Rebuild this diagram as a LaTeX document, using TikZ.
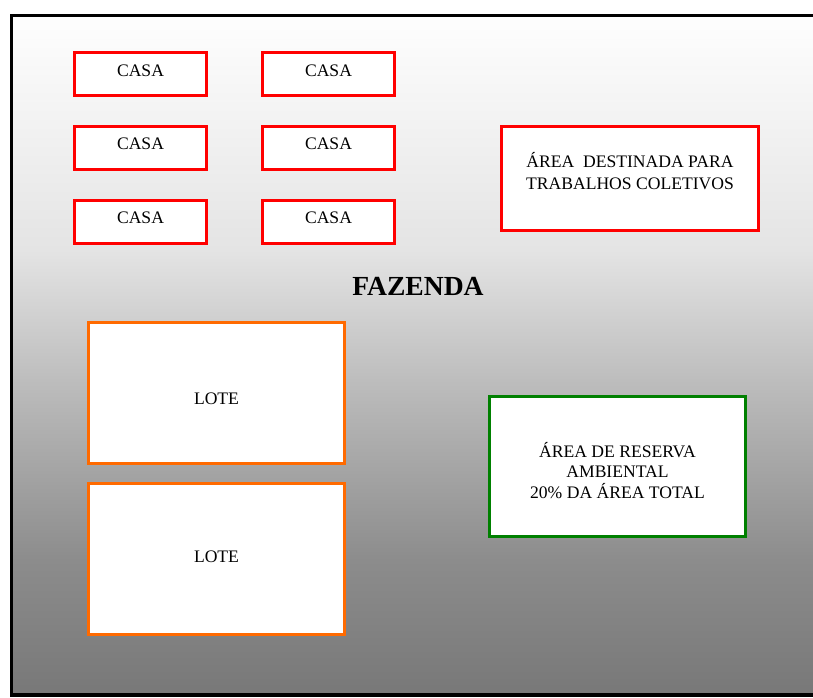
\documentclass[tikz,border=0pt]{standalone}
\usepackage{fontspec}
\setmainfont{Liberation Serif}
\usepackage{xcolor}
\usepackage{tikz}

\definecolor{loteorange}{RGB}{255,106,0}
\definecolor{reservagreen}{RGB}{0,128,0}
\definecolor{fundo1}{RGB}{254,254,254}
\definecolor{fundo2}{RGB}{228,228,228}
\definecolor{fundo3}{RGB}{189,189,189}
\definecolor{fundo4}{RGB}{140,140,140}
\definecolor{fundo5}{RGB}{120,120,120}

% texto deslocado dentro da caixa
\newcommand{\txtshift}[2]{\raisebox{#1}[0pt][0pt]{#2}}

\begin{document}
\begin{tikzpicture}[x=1pt,y=-1pt,
		casa/.style={shape=rectangle,draw=red,line width=3pt,fill=white,inner sep=0pt,minimum width=132pt,minimum height=43pt,font=\fontsize{17.6}{20}\selectfont},
		area/.style={shape=rectangle,line width=3pt,fill=white,inner sep=0pt,align=center,font=\fontsize{17.6}{20}\selectfont}]
			\clip (0,0) rectangle (813,697);

			%% fundo da fazenda
			\shade[top color=fundo1,bottom color=fundo2] (11.5,15.5) rectangle (830,250.5);
			\shade[top color=fundo2,bottom color=fundo3] (11.5,250) rectangle (830,380.5);
			\shade[top color=fundo3,bottom color=fundo4] (11.5,380) rectangle (830,560.5);
			\shade[top color=fundo4,bottom color=fundo5] (11.5,560) rectangle (830,695);
			\draw[line width=3.5pt] (11.5,15.5) rectangle (830,695);

			%% casas
			\node[casa] (c1) at (140.5,74) {\txtshift{-2.3pt}{CASA}};
			\node[casa] (c2) at (328.5,74) {\txtshift{-2.3pt}{CASA}};
			\node[casa] (c3) at (140.5,147.5) {\txtshift{-2.3pt}{CASA}};
			\node[casa] (c4) at (328.5,147.5) {\txtshift{-2.3pt}{CASA}};
			\node[casa] (c5) at (140.5,221.5) {\txtshift{-2.3pt}{CASA}};
			\node[casa] (c6) at (328.5,221.5) {\txtshift{-2.3pt}{CASA}};

			%% areas
			\node[area,draw=red,minimum width=257pt,minimum height=104pt] (coletivo) at (630,178.5) {\txtshift{0.3pt}{\fontsize{17.6}{22}\selectfont\begin{tabular}{@{}c@{}}ÁREA\ \ DESTINADA PARA\\TRABALHOS COLETIVOS\end{tabular}}};
			\node[font=\fontsize{27.6}{30}\selectfont\bfseries] (fazenda) at (418,286) {FAZENDA};
			\node[area,draw=loteorange,minimum width=256pt,minimum height=141pt] (l1) at (216.5,393) {\txtshift{-11.8pt}{LOTE}};
			\node[area,draw=loteorange,minimum width=256pt,minimum height=151pt] (l2) at (216.5,559) {\txtshift{-3.8pt}{LOTE}};
			\node[area,draw=reservagreen,minimum width=256pt,minimum height=140pt] (reserva) at (617.5,466.5) {\txtshift{-11.2pt}{\begin{tabular}{@{}c@{}}ÁREA DE RESERVA\\AMBIENTAL\\20\% DA ÁREA TOTAL\end{tabular}}};
		\end{tikzpicture}
\end{document}
